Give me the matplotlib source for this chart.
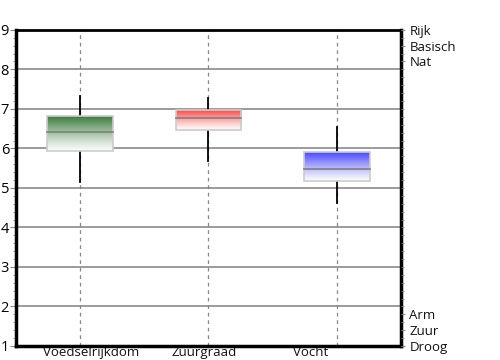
import matplotlib.pyplot as plt
import numpy as np
from matplotlib.colors import LinearSegmentedColormap
from matplotlib.ticker import MultipleLocator
from matplotlib.transforms import ScaledTranslation

plt.rcParams['font.family'] = ['Open Sans', 'DejaVu Sans']

categories = ['Voedselrijkdom', 'Zuurgraad', 'Vocht']
lows = [5.14, 5.69, 4.63]
q1s = [5.94, 6.46, 5.18]
medians = [6.41, 6.76, 5.47]
q3s = [6.81, 6.96, 5.90]
highs = [7.33, 7.27, 6.53]
box_colors = ['#3d7d3d', '#ff4a4a', '#4a4aff']

right_ticks = [9, 8.6, 8.2, 1.8, 1.4, 1.0]
right_labels = ['Rijk', 'Basisch', 'Nat', 'Arm', 'Zuur', 'Droog']

fig = plt.figure(figsize=(5, 3.6), dpi=100)
ax = fig.add_axes([0.032, 0.039, 0.77, 0.878])

pos = np.arange(len(categories)) + 0.5
half = 0.255

for i, x in enumerate(pos):
    # dashed vertical grid line
    ax.axvline(x, color='#888888', lw=0.9, ls=(0, (3, 3)), zorder=1)
    # whiskers
    ax.plot([x, x], [q3s[i], highs[i]], color='black', lw=1.3, zorder=3)
    ax.plot([x, x], [lows[i], q1s[i]], color='black', lw=1.3, zorder=3)
    # gradient box
    cmap = LinearSegmentedColormap.from_list('g', ['#fbfbfb', box_colors[i]])
    grad = np.linspace(0, 1, 100).reshape(-1, 1) ** 1.2
    ax.imshow(grad, cmap=cmap, origin='lower', aspect='auto',
              extent=[x - half, x + half, q1s[i], q3s[i]], zorder=4)
    ax.add_patch(plt.Rectangle((x - half, q1s[i]), 2 * half, q3s[i] - q1s[i],
                               fill=False, ec='#cccccc', lw=1.2, zorder=5))
    ax.plot([x - half, x + half], [medians[i]] * 2, color='#808080', lw=1.2, zorder=6)

for y in range(2, 9):
    ax.axhline(y, color='#808080', lw=1.1, zorder=2)

ax.set_xlim(0, 3)
ax.set_ylim(1, 9)
ax.set_xticks(pos)
ax.set_xticklabels(categories, fontsize=9.5, color='#111111')
ax.tick_params(axis='x', length=0, pad=0)
# labels in the original sit a bit off the category centres
for lab, dx in zip(ax.get_xticklabels(), [11, -4, -26]):
    lab.set_transform(lab.get_transform() + ScaledTranslation(dx / 100, 0, fig.dpi_scale_trans))
ax.yaxis.set_major_locator(MultipleLocator(1))
ax.yaxis.set_minor_locator(MultipleLocator(0.2))
ax.tick_params(axis='y', which='major', length=4, color='#888888', labelsize=10.5, pad=1)
ax.tick_params(axis='y', which='minor', length=2, color='#888888')
for s in ['left', 'bottom', 'right']:
    ax.spines[s].set_linewidth(2.5)
ax.spines['top'].set_linewidth(2)
for s in ax.spines.values():
    s.set_zorder(10)

ax2 = ax.twinx()
ax2.set_ylim(1, 9)
ax2.set_yticks(right_ticks)
ax2.set_yticklabels(right_labels, fontsize=9.5, color='#111111')
ax2.yaxis.set_minor_locator(MultipleLocator(0.2))
ax2.tick_params(axis='y', which='major', length=3, color='#888888', pad=3)
ax2.tick_params(axis='y', which='minor', length=2, color='#888888')
for s in ax2.spines.values():
    s.set_visible(False)

fig.savefig('out.png', dpi=100)
